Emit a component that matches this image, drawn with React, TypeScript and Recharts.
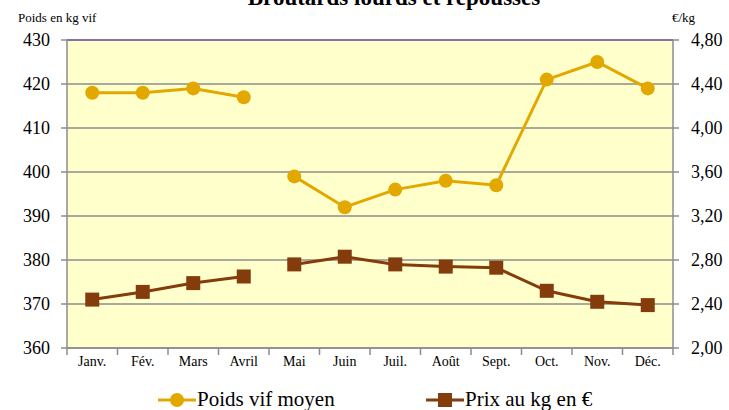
import React from 'react';
import {
  ComposedChart,
  Line,
  XAxis,
  YAxis,
  CartesianGrid,
  Legend,
  ReferenceLine,
  Customized,
} from 'recharts';

// mois
const months = ['Janv.', 'Fév.', 'Mars', 'Avril', 'Mai', 'Juin', 'Juil.', 'Août', 'Sept.', 'Oct.', 'Nov.', 'Déc.'];
// poids vif moyen (kg)
const poids = [418, 418, 419, 417, 399, 392, 396, 398, 397, 421, 425, 419];
// prix au kg en €
const prix = [2.44, 2.51, 2.59, 2.65, 2.76, 2.83, 2.76, 2.74, 2.73, 2.52, 2.42, 2.39];

const leftTicks = [360, 370, 380, 390, 400, 410, 420, 430];
const rightTicks = [2.0, 2.4, 2.8, 3.2, 3.6, 4.0, 4.4, 4.8];

// rupture entre avril et mai
const breakIndex = 4;

const data = months.map((m, i) => ({
  month: m,
  poidsA: i < breakIndex ? poids[i] : null,
  poidsB: i >= breakIndex ? poids[i] : null,
  prixA: i < breakIndex ? prix[i] : null,
  prixB: i >= breakIndex ? prix[i] : null,
}));

const GOLD = '#E3A800';
const BROWN = '#843C0C';
const GRID = '#8C8C8C';
const FONT = "'Liberation Serif', 'Times New Roman', serif";
const X_MARGIN = 8;

const squareDot = (p: any) => {
  if (p.cy == null || p.value == null) return <g key={p.key} />;
  return <rect key={p.key} x={p.cx - 7} y={p.cy - 7} width={14} height={14} fill={BROWN} />;
};

const circleDot = { r: 7, fill: GOLD, stroke: GOLD, strokeWidth: 0 };

// libellé du mois + graduations entre les catégories
const MonthTick = (p: any) => {
  const off = p.payload && p.payload.offset ? p.payload.offset : 25.25;
  const axisY = p.y - X_MARGIN;
  const last = p.index === months.length - 1;
  return (
    <g>
      <line x1={p.x - off} x2={p.x - off} y1={axisY} y2={axisY + 7} stroke={GRID} strokeWidth={1.5} />
      {last && <line x1={p.x + off} x2={p.x + off} y1={axisY} y2={axisY + 7} stroke={GRID} strokeWidth={1.5} />}
      <text x={p.x} y={p.y} dy="0.71em" textAnchor="middle" fill="#000" fontSize={14} style={{ fontFamily: FONT }}>
        {p.payload.value}
      </text>
    </g>
  );
};

const LeftTick = (p: any) => (
  <text x={p.x} y={p.y} dy="0.355em" textAnchor="end" fill="#000" fontSize={18} style={{ fontFamily: FONT }}>
    {p.payload.value}
  </text>
);

const RightTick = (p: any) => (
  <text x={p.x} y={p.y} dy="0.355em" textAnchor="start" fill="#000" fontSize={18} style={{ fontFamily: FONT }}>
    {Number(p.payload.value).toFixed(2).replace('.', ',')}
  </text>
);

const renderLegend = () => (
  <div style={{ position: 'relative', height: 32, width: 729, fontFamily: FONT, fontSize: 21, color: '#000' }}>
    <div style={{ position: 'absolute', left: 158, top: 9, display: 'flex', alignItems: 'center' }}>
      <svg width={38} height={20}>
        <line x1={0} y1={10} x2={38} y2={10} stroke={GOLD} strokeWidth={3} />
        <circle cx={19} cy={10} r={7} fill={GOLD} />
      </svg>
      <span style={{ marginLeft: 1 }}>Poids vif moyen</span>
    </div>
    <div style={{ position: 'absolute', left: 426, top: 9, display: 'flex', alignItems: 'center' }}>
      <svg width={38} height={20}>
        <line x1={0} y1={10} x2={38} y2={10} stroke={BROWN} strokeWidth={3} />
        <rect x={12} y={3} width={14} height={14} fill={BROWN} />
      </svg>
      <span style={{ marginLeft: 1 }}>Prix au kg en €</span>
    </div>
  </div>
);

const Titles = () => (
  <g style={{ fontFamily: FONT }} fill="#000">
    <text x={394} y={5} textAnchor="middle" fontSize={23} fontWeight="bold">
      Broutards lourds et repousses
    </text>
    <text x={18} y={22} fontSize={13}>Poids en kg vif</text>
    <text x={672} y={22} fontSize={13}>€/kg</text>
  </g>
);

export default function App() {
  return (
    <div style={{ position: 'absolute', left: 0, top: 0, width: 729, height: 410, background: '#fff', fontFamily: FONT }}>
      <ComposedChart
        width={729}
        height={410}
        data={data}
        margin={{ top: 40, right: 0, left: 0, bottom: 0 }}
        style={{ fontFamily: FONT }}
      >
        <CartesianGrid
          yAxisId="left"
          vertical={false}
          stroke={GRID}
          strokeWidth={1.5}
          fill="#FFFFCC"
          fillOpacity={1}
        />
        <XAxis
          dataKey="month"
          scale="band"
          height={30}
          axisLine={{ stroke: GRID, strokeWidth: 1.5 }}
          tickLine={false}
          tickSize={0}
          tickMargin={X_MARGIN}
          interval={0}
          tick={<MonthTick />}
        />
        <YAxis
          yAxisId="left"
          width={67}
          domain={[360, 430]}
          ticks={leftTicks}
          interval={0}
          axisLine={{ stroke: GRID, strokeWidth: 1.5 }}
          tickLine={{ stroke: GRID, strokeWidth: 1.5 }}
          tickSize={6}
          tickMargin={11}
          tick={<LeftTick />}
        />
        <YAxis
          yAxisId="right"
          orientation="right"
          width={56}
          domain={[2, 4.8]}
          ticks={rightTicks}
          interval={0}
          axisLine={{ stroke: GRID, strokeWidth: 1.5 }}
          tickLine={{ stroke: GRID, strokeWidth: 1.5 }}
          tickSize={6}
          tickMargin={12}
          tick={<RightTick />}
        />
        <ReferenceLine yAxisId="left" y={430} stroke="#7B5EA7" strokeWidth={1.5} />
        <Legend verticalAlign="bottom" height={32} content={renderLegend} wrapperStyle={{ left: 0, width: 729 }} />
        <Line yAxisId="left" dataKey="poidsA" stroke={GOLD} strokeWidth={3} dot={circleDot} activeDot={false} isAnimationActive={false} connectNulls={false} />
        <Line yAxisId="left" dataKey="poidsB" stroke={GOLD} strokeWidth={3} dot={circleDot} activeDot={false} isAnimationActive={false} connectNulls={false} />
        <Line yAxisId="right" dataKey="prixA" stroke={BROWN} strokeWidth={3} dot={squareDot} activeDot={false} isAnimationActive={false} connectNulls={false} />
        <Line yAxisId="right" dataKey="prixB" stroke={BROWN} strokeWidth={3} dot={squareDot} activeDot={false} isAnimationActive={false} connectNulls={false} />
        <Customized component={Titles} />
      </ComposedChart>
    </div>
  );
}
